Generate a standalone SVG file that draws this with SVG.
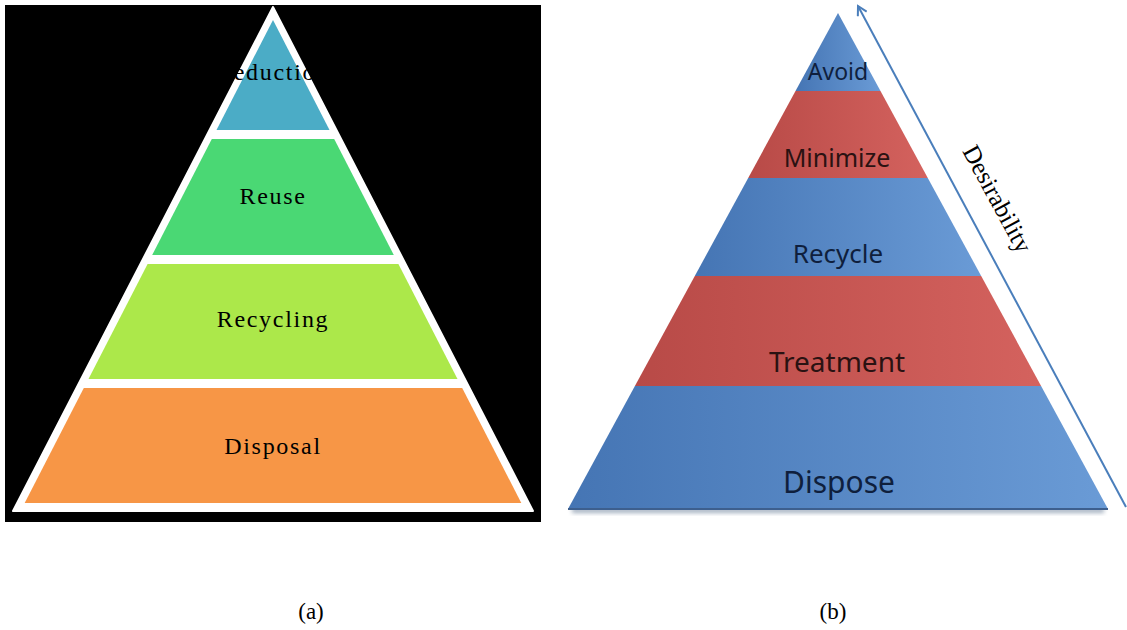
<svg xmlns="http://www.w3.org/2000/svg" width="1127" height="630" viewBox="0 0 1127 630">
  <style>
    .serif { font-family: "Liberation Serif", "Times New Roman", serif; fill: #000; }
    .lblA { font-size: 24px; letter-spacing: 1.7px; text-anchor: middle; }
    .sans { font-family: "Noto Sans", "Open Sans", sans-serif; text-anchor: middle; }
    .onBlue { fill: #0f1f3d; }
    .onRed { fill: #2a1212; }
    .caption { font-size: 23px; text-anchor: middle; }
  </style>
  <defs>
    <linearGradient id="blueFill" x1="0" y1="0" x2="1" y2="0">
      <stop offset="0" stop-color="#4575b4"/>
      <stop offset="1" stop-color="#6a9bd6"/>
    </linearGradient>
    <linearGradient id="redFill" x1="0" y1="0" x2="1" y2="0">
      <stop offset="0" stop-color="#b84a47"/>
      <stop offset="1" stop-color="#d4625e"/>
    </linearGradient>
    <filter id="soft" x="-10%" y="-50%" width="120%" height="200%">
      <feGaussianBlur stdDeviation="2"/>
    </filter>
    <marker id="openHead" viewBox="0 0 12 12" refX="10" refY="6" markerWidth="12" markerHeight="12" markerUnits="userSpaceOnUse" orient="auto">
      <path d="M1,1 L10,6 L1,11" fill="none" stroke="#4a7ebb" stroke-width="2" stroke-linejoin="miter"/>
    </marker>
  </defs>

  <rect width="1127" height="630" fill="#ffffff"/>

  <!-- Panel (a): waste hierarchy on black -->
  <g id="panel-a">
    <rect x="5" y="5" width="536" height="517" fill="#000000"/>
    <polygon points="273,7 13,511 533,511" fill="#ffffff" stroke="#ffffff" stroke-width="2" stroke-linejoin="round"/>
  </g>

  <g id="a-reduction">
    <polygon points="273,20 216.5,130 329.5,130" fill="#4bacc6"/>
    <text class="serif lblA" x="273" y="80">Reduction</text>
  </g>
  <g id="a-reuse">
    <polygon points="211.8,139 334.2,139 393.8,255 152.2,255" fill="#4ad874"/>
    <text class="serif lblA" x="273" y="204">Reuse</text>
  </g>
  <g id="a-recycling">
    <polygon points="147.6,264 398.4,264 457.5,379 88.5,379" fill="#ace84a"/>
    <text class="serif lblA" x="273" y="327">Recycling</text>
  </g>
  <g id="a-disposal">
    <polygon points="83.8,388 462.2,388 521.3,503 24.7,503" fill="#f79646"/>
    <text class="serif lblA" x="273" y="454">Disposal</text>
  </g>

  <!-- Panel (b): desirability pyramid -->
  <g id="b-shadow">
    <rect x="572" y="508" width="532" height="5" fill="#5a6f8c" opacity="0.55" filter="url(#soft)"/>
  </g>
  <g id="b-avoid">
    <polygon points="838,13 880.5,91 795.5,91" fill="url(#blueFill)"/>
    <text class="sans onBlue" x="838" y="80" font-size="23">Avoid</text>
  </g>
  <g id="b-minimize">
    <polygon points="795.5,91 880.5,91 927.8,178 748.2,178" fill="url(#redFill)"/>
    <text class="sans onRed" x="837" y="167" font-size="25">Minimize</text>
  </g>
  <g id="b-recycle">
    <polygon points="748.2,178 927.8,178 981.2,276 694.8,276" fill="url(#blueFill)"/>
    <text class="sans onBlue" x="838" y="263" font-size="26">Recycle</text>
  </g>
  <g id="b-treatment">
    <polygon points="694.8,276 981.2,276 1041.1,386 634.9,386" fill="url(#redFill)"/>
    <text class="sans onRed" x="837" y="372" font-size="28">Treatment</text>
  </g>
  <g id="b-dispose">
    <polygon points="634.9,386 1041.1,386 1108,509 568,509" fill="url(#blueFill)"/>
    <line x1="568" y1="509" x2="1108" y2="509" stroke="#3d5f8e" stroke-width="2"/>
    <text class="sans onBlue" x="839" y="493" font-size="30">Dispose</text>
  </g>

  <!-- Desirability axis -->
  <g id="connectors">
    <line x1="1126" y1="507" x2="858" y2="6" stroke="#4a7ebb" stroke-width="2" marker-end="url(#openHead)"/>
  </g>
  <g id="b-desirability">
    <text class="serif" font-size="25" transform="translate(962,151) rotate(61.5)" fill="#111">Desirability</text>
  </g>

  <!-- Captions -->
  <g id="captions">
    <text class="serif caption" x="311" y="619">(a)</text>
    <text class="serif caption" x="833" y="619">(b)</text>
  </g>
</svg>
